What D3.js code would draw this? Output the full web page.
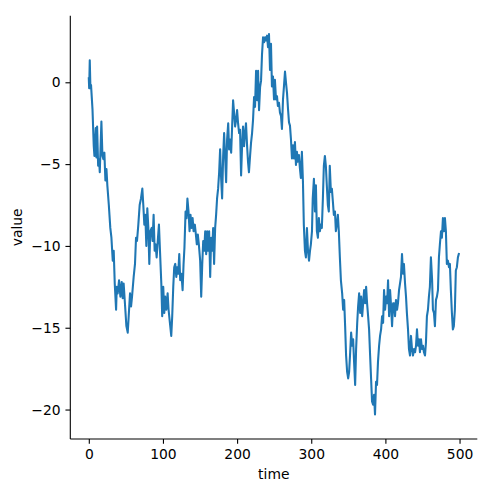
<!DOCTYPE html>
<html>
<head>
<meta charset="utf-8">
<script src="https://cdn.jsdelivr.net/npm/d3@7"></script>
<style>
  html, body { margin: 0; padding: 0; background: #fff; }
  svg text { font-family: "DejaVu Sans", sans-serif; }
</style>
</head>
<body>
<svg id="chart" width="485" height="487"></svg>
<script>
const times = [0,0.5,1.3,2.2,3,5,6.7,7.6,9.4,10.3,11.2,12.6,13.9,14.8,17,18.4,19.7,21,22.4,23.8,25,27,29,30.5,32.3,33.6,35,36.8,37.7,39,40.8,42.6,44.4,45.7,47,49,50.7,52.5,53.8,55.6,57,58.3,60.5,62.3,63.7,65,66.8,68.6,70.4,72.2,73.5,74.9,76.2,77.6,78.9,80.3,81.6,83,84.8,86,87.4,88.8,90,91.5,93.3,94.6,96,97.8,99,100.4,101.8,103,104.5,106.3,107.6,109.4,111.2,112.5,113.9,115.2,116.6,118,119.3,120.6,122,123.3,125,126.5,127.8,129,130.5,131.8,133,134.5,135.9,137.2,138.6,140,141.3,143,144.4,145.7,147,148.4,150.2,151.6,153,154.3,155.6,157,158.3,159.6,161,162.3,163.7,165,166.4,167.7,169,170.4,171.7,173,174.4,175.8,177.1,178.5,179.8,181.2,182.5,184,185.2,186.5,188,189.2,190.6,192,193.3,194.6,196,197.3,198.7,200,201.3,202.7,204,205.4,206.7,208,209.4,210.8,212,213.5,214.8,216,217.5,218.8,220.2,221.5,222.9,224.2,225.6,227,228.3,229.6,231,232.3,233.6,235,236.4,237.7,239,240.4,241.7,243,244.4,245.7,247,248.4,249.8,251,252.5,253.8,255,256.5,257.8,259.2,260.5,261.9,263.2,264.6,266,267.3,268.7,270,271.3,272.6,274,275.3,276.7,278,279.4,280.7,282,283.4,284.7,286,287.4,288.8,290,291.5,292.8,294.2,295.6,297,298.3,299.5,301,302,303.6,305,306.3,307.6,309,310.3,311.7,313,314.3,315.7,317,318.4,319.7,321,322.4,323.7,325,326.5,327.8,329.2,330.5,332,333.2,334.5,335.9,337.2,338.6,340,341.7,343,344.4,345.7,347,348.4,349.8,351.1,352.5,353.8,355.2,356.5,357.8,359.2,360.5,362,363.2,364.6,366,367.3,368.7,370,371.3,372.7,374,375.3,376.7,378,379.4,380.7,382,383.4,384.7,386,387.4,388.7,390,391.5,392.8,394.2,395.5,396.9,398.2,399.6,401,402.3,403.6,405,406.3,407.7,409,410.4,411.7,413,414.3,415.7,417,418.4,419.7,421,422.4,423.8,425,426.5,427.8,429,430.5,431.8,433.2,434.5,435.9,437.2,438.6,440,441.3,442.6,444,445.3,446.6,448,449.3,450.7,452,453.4,454.7,456,457.4,458.7,460,461.4,463,464.1,465.5,466.8,468.2,469.5,470.9,472.2,473.5,475,476.2,477.6,479,480.3,481.6,482.9,484.3,485.7,487,488.3,489.7,491,492.3,493.7,495,496.4,497.8,499];
const values = [0.24,-0.36,1.35,-0.36,-0.16,-1.67,-3.9,-4.5,-2.8,-4.6,-2.7,-5.1,-4.7,-5.5,-2.4,-4.5,-4.7,-4.3,-6.0,-5.3,-6.3,-7.5,-8.9,-9.5,-10.9,-10.3,-12.3,-13.9,-12.5,-12.9,-12.1,-13.1,-12.2,-13.2,-12.3,-13.7,-14.9,-15.3,-14.3,-12.9,-13.7,-13.1,-11.9,-11.1,-9.5,-9.7,-8.7,-7.5,-7.1,-6.5,-7.5,-8.7,-8.1,-10,-7.7,-8.9,-11.1,-9.1,-8.9,-9.7,-8.1,-10.3,-9.9,-10.7,-9.5,-8.7,-10.3,-12.3,-14.3,-12.5,-14.1,-13.1,-13.9,-12.9,-13.9,-14.7,-15.5,-14.3,-12.5,-11.3,-11.1,-11.9,-11.3,-11.7,-10.5,-12.1,-11.7,-12.7,-11.1,-10.1,-7.9,-8.3,-7.1,-7.9,-9.1,-8.1,-8.9,-8.3,-9.1,-8.7,-9.3,-9.9,-9.3,-9.9,-10.9,-13.1,-11.1,-9.7,-10.3,-9.1,-10.5,-9.1,-10.3,-9.1,-11.9,-9.5,-10.3,-8.9,-11.1,-8.9,-8.1,-7.1,-6.5,-5.5,-4.1,-5.9,-7.1,-4.5,-3.1,-4.7,-6.1,-3.5,-2.5,-4.1,-3.5,-4.3,-2.7,-1.1,-1.9,-2.7,-2.3,-1.7,-2.5,-3.1,-2.9,-5.7,-3.9,-2.7,-3.9,-3.1,-2.5,-3.9,-4.9,-5.5,-4.5,-3.7,-3.1,-2.3,-0.9,-1.5,0.7,-1.1,0.7,-1.7,-0.3,0.1,1.7,2.75,2.45,2.75,2.55,2.85,2.15,2.95,0.75,2.35,-0.25,0.35,-1.05,0.15,-1.05,-0.85,-1.45,-1.25,-1.85,-2.05,-2.85,-1.05,-0.25,0.65,-0.05,-0.65,-1.65,-2.45,-2.65,-3.45,-4.65,-3.85,-4.65,-3.65,-5.05,-4.25,-4.85,-4.45,-5.25,-5.85,-4.25,-6.05,-8.7,-10.3,-10.7,-8.9,-10.3,-10.9,-10.3,-9.9,-9.1,-7.1,-5.9,-7.9,-6.3,-9.1,-9.5,-8.3,-9.1,-8.7,-8.9,-7.1,-5.1,-4.5,-5.1,-6.3,-7.5,-7.9,-5.1,-6.7,-6.5,-7.3,-8.1,-7.9,-9.1,-8.7,-8.1,-9.1,-10.7,-12.1,-12.9,-13.9,-13.3,-14.9,-16.7,-17.7,-18.1,-17.7,-16.5,-15.3,-16.1,-15.7,-17.1,-18.5,-16.3,-14.7,-13.7,-12.9,-14.1,-13.1,-14.3,-13.5,-12.7,-13.5,-12.5,-13.5,-14.3,-15.1,-16.7,-18.1,-19.5,-19.7,-19.1,-20.3,-18.3,-18.5,-17.1,-16.1,-15.5,-15.1,-14.3,-14.7,-12.7,-13.9,-13.1,-13.5,-12.1,-14.3,-12.7,-13.7,-14.9,-13.5,-13.5,-14.3,-13.3,-13.9,-13.5,-12.7,-12.3,-11.9,-10.5,-11.7,-11.1,-12.3,-13.1,-14.1,-15.1,-16.3,-16.7,-15.5,-16.3,-16.7,-16.3,-16.5,-16.1,-15.1,-16.1,-15.7,-16.5,-15.7,-16.3,-16.1,-16.5,-16.7,-15.9,-14.3,-13.9,-13.1,-12.5,-10.7,-12.1,-13.9,-14.1,-14.9,-13.3,-13.1,-12.7,-10.7,-9.9,-9.1,-9.5,-8.3,-9.1,-8.3,-9.1,-11.1,-10.9,-11.3,-11.1,-12.7,-14.1,-15.1,-14.9,-13.9,-11.5,-11.3,-10.7,-10.5];
const xTicks = [0, 100, 200, 300, 400, 500];
const yTicks = [-20, -15, -10, -5, 0];
const xLabel = "time";
const yLabel = "value";

(function () {
  const n = Math.min(times.length, values.length);
  const data = times.slice(0, n).map((t, i) => ({ t, v: values[i] }));

  const svg = d3.select("#chart");
  const pLeft = 70.3, pRight = 477.3, pTop = 15.7, pBottom = 439;
  const fontSize = 13.89;
  const tickLen = 4.86;

  const x = d3.scaleLinear().domain([-24.95, 523.95]).range([pLeft, pRight]);
  const y = d3.scaleLinear().domain([-21.8, 4.07]).range([pBottom, pTop]);

  const fmt = d => (d < 0 ? "\u2212" + Math.abs(d) : String(d));

  const line = d3.line().x(d => x(d.t)).y(d => y(d.v));
  svg.append("path")
    .datum(data)
    .attr("fill", "none")
    .attr("stroke", "#1f77b4")
    .attr("stroke-width", 2.08)
    .attr("stroke-linejoin", "round")
    .attr("stroke-linecap", "square")
    .attr("d", line);

  const xAxis = svg.append("g")
    .attr("transform", `translate(0,${pBottom})`)
    .call(d3.axisBottom(x).tickValues(xTicks).tickFormat(fmt).tickSize(tickLen).tickPadding(4.86).tickSizeOuter(0));
  const yAxis = svg.append("g")
    .attr("transform", `translate(${pLeft},0)`)
    .call(d3.axisLeft(y).tickValues(yTicks).tickFormat(fmt).tickSize(tickLen).tickPadding(4.86).tickSizeOuter(0));

  [xAxis, yAxis].forEach(g => {
    g.select(".domain").attr("stroke", "#000").attr("stroke-width", 1.1);
    g.selectAll(".tick line").attr("stroke", "#000").attr("stroke-width", 1.1);
    g.selectAll(".tick text").attr("fill", "#000").style("font-size", fontSize + "px").style("font-family", "DejaVu Sans");
  });
  xAxis.select(".domain").attr("d", `M${pLeft},0H${pRight}`);
  yAxis.select(".domain").attr("d", `M0,${pBottom}V${pTop}`);

  svg.append("text")
    .attr("x", (pLeft + pRight) / 2)
    .attr("y", 479)
    .attr("text-anchor", "middle")
    .style("font-size", fontSize + "px")
    .attr("fill", "#000")
    .text(xLabel);

  svg.append("text")
    .attr("transform", `translate(22,${(pTop + pBottom) / 2}) rotate(-90)`)
    .attr("text-anchor", "middle")
    .style("font-size", fontSize + "px")
    .attr("fill", "#000")
    .text(yLabel);
})();
</script>
</body>
</html>
